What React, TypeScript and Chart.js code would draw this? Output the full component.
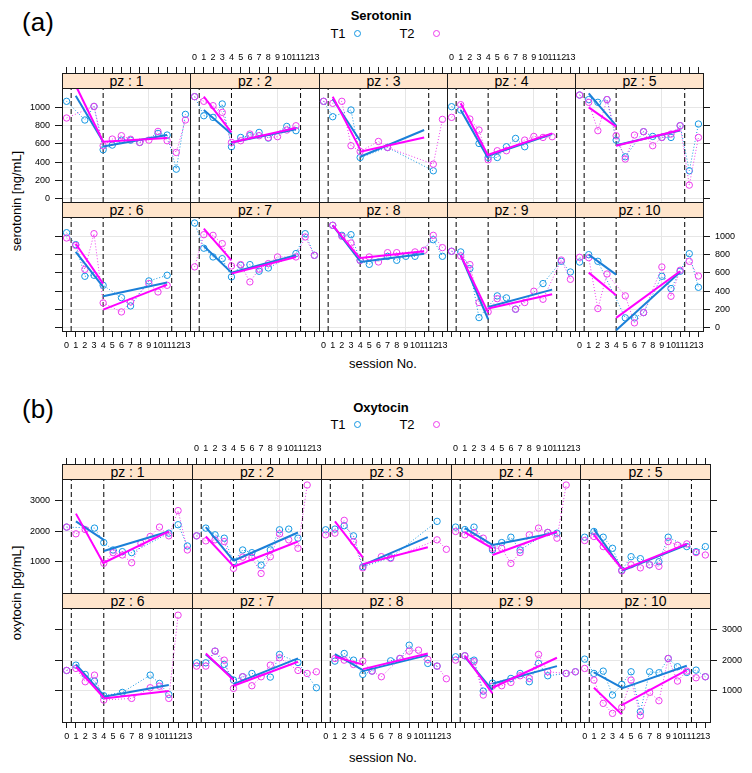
import React, { useEffect, useRef } from "react";
import { Chart, registerables } from "chart.js";
Chart.register(...registerables);

const _ = null;
const sessions = [0, 1, 2, 3, 4, 5, 6, 7, 8, 9, 10, 11, 12, 13];
const xTickValues = [0, 1, 2, 3, 4, 5, 6, 7, 8, 9, 10, 11, 12, 13];
const serYTicks = [0, 200, 400, 600, 800, 1000];
const oxyYTicks = [1000, 2000, 3000];
const phaseBreaks = [0.5, 4, 11.5];
const gridSessions = [9];
const fitX = [1, 4, 4, 11];
const panelNames = ["pz : 1", "pz : 2", "pz : 3", "pz : 4", "pz : 5", "pz : 6", "pz : 7", "pz : 8", "pz : 9", "pz : 10"];

// Serotonin [ng/mL], sessions 0..13
const serT1 = [
  [1066, _, 861, 1010, 535, 586, 640, 640, 615, _, 714, 696, 322, 923],
  [1117, 908, 890, 1037, 568, 670, 690, 725, 663, _, 791, 744, _, _],
  [1066, 897, _, 971, 450, _, _, 560, _, _, _, _, 304, _],
  [1007, 971, _, 604, 450, 450, 568, 659, 568, _, _, _, _, _],
  [1135, 1085, 1055, 1085, 641, 458, _, 733, 681, 670, 670, 799, 304, 817],
  [1040, 909, 562, 573, 463, _, 328, 237, _, 511, _, 573, _, _],
  [1146, 870, 774, 755, 555, 683, 690, 617, 653, _, _, 811, 1029, 792],
  [_, 1121, 1011, 1018, 737, 693, _, 780, 737, 781, 781, _, 963, 781],
  [836, 829, 646, 109, _, 347, 325, 201, _, _, 482, _, 726, 609],
  [718, 799, 726, _, _, 106, 106, 164, _, 562, 427, 617, 810, 441],
];
const serT2 = [
  [883, _, _, 1010, 579, 652, 689, 650, 615, 640, 736, 634, 505, 861],
  [1117, 1066, 1018, 945, 615, 634, 707, 689, 668, 678, 751, 798, _, _],
  [1066, 1044, 1066, 579, 516, _, 626, 560, _, _, _, _, 377, 868],
  [890, 1029, 872, 751, 425, 524, 524, _, 641, 681, 670, 678, _, _],
  [1135, 1055, 744, 1085, 689, 433, 696, 733, 579, 670, 707, 799, 147, 670],
  [982, 900, 638, 1029, 270, _, 171, 281, _, 482, 390, 463, _, _],
  [665, 1018, 1011, 920, 675, 690, 500, 640, 701, 774, _, 774, 993, 792],
  [_, 1121, 1000, 927, 737, 774, 719, 821, 821, _, 829, 847, 1011, 876],
  [836, 785, 690, 274, 172, 317, _, 201, 274, 398, 310, _, 740, 529],
  [770, 766, 208, 587, _, 347, 51, 164, _, 664, 343, 628, 726, 565],
];
// fitted segments: value at session 1, 4 (pre) and 4, 11 (post)
const serFitT1 = [
  [1128, 623, 571, 696], [971, 707, 615, 760], [1091, 634, 458, 751], [971, 443, 469, 707], [1154, 799, 585, 745],
  [829, 445, 343, 493], [894, 602, 602, 792], [1121, 727, 718, 810], [792, 91, 226, 416], [799, 580, -30, 609],
];
const serFitT2 = [
  [1240, 623, 623, 663], [1117, 725, 615, 773], [1117, 542, 513, 670], [1044, 469, 480, 714], [1000, 788, 579, 751],
  [919, 482, 197, 471], [1084, 737, 591, 774], [1121, 756, 763, 836], [792, 164, 208, 365], [602, 354, 106, 617],
];

// Oxytocin [pg/mL], sessions 0..13
const oxyT1 = [
  [2131, _, _, 2098, 1626, 1384, 1329, 1296, _, _, _, 1933, 2208, 1516],
  [1845, 2098, 1878, 1769, 1000, 1384, 1296, 890, 1384, 2043, 2065, 1769, _, _],
  [2043, 2065, 2175, 1845, 835, _, _, 1130, _, _, _, _, 2318, _],
  [2131, 2050, 2131, _, 1384, 1626, 1801, 1384, _, _, 1955, 1933, _, _],
  [1801, 1988, 1801, 1439, 720, 1165, 1100, 900, 1000, 1801, _, 1494, 1329, 1494],
  [1662, 1836, 1532, 1315, 838, _, 946, _, _, 1510, 1239, 880, _, _],
  [1912, 1912, 2292, 1858, 1350, 1456, 1564, _, 1445, 2184, _, 1923, _, 1098],
  [_, 1967, 2216, 1999, 1532, 1641, _, 1977, 2053, 2487, _, 1891, 1804, _],
  [2108, 2141, 1999, 988, 1250, _, 1402, 1564, 1293, 1891, 1489, _, 1564, 1619],
  [2032, 1565, 1641, 859, 1207, 1619, 316, 1619, 1586, 2053, 1782, 1597, 1673, 1456],
];
const oxyT2 = [
  [2131, 1911, 2050, _, 950, 1296, 1220, 967, 1604, 1824, 2131, 1845, 2669, 1384],
  [1845, 1681, 1714, 1659, 783, 1150, 1140, 618, 1165, 1911, 1714, 1439, 3503, _],
  [1878, 1933, 2351, 1659, 800, _, 1165, 1110, _, _, _, _, 1714, 1406],
  [1988, 1878, 1950, 1769, 1439, 1439, 945, 1300, 1878, 2098, 1955, 1769, 3503, _],
  [1692, 1823, 1494, _, 700, 900, 800, 900, 850, 1659, 1538, 1582, 1300, 1220],
  [1662, 1728, 1293, 1510, 696, _, _, 750, _, 1098, 1150, 750, 3465, _],
  [1804, 1804, 2292, 1999, 1076, 1456, 1163, 1456, 1836, 2076, _, 1662, 1564, 1619],
  [_, 2053, 1999, 1858, 1967, 1641, 1456, _, 2053, 2293, 2325, 2022, 1804, 1391],
  [1999, 2141, 1950, 859, 1150, 1163, 1272, 1489, 1402, 2184, 1619, _, 1564, 1619],
  [1728, 1348, 587, 261, 457, 1348, 185, 946, 674, 2053, 1315, 1641, 1423, 1456],
];
const oxyFitT1 = [
  [2318, 1714, 1351, 1988], [2131, 1033, 1033, 1955], [_, _, 890, 1801], [2098, 1549, 1549, 1955], [2065, 780, 700, 1550],
  [1858, 838, 805, 1185], [2184, 1402, 1217, 2054], [2199, 1673, 1641, 2162], [2108, 1022, 1228, 1804], [1597, 1098, 1076, 1815],
];
const oxyFitT2 = [
  [2570, 923, 967, 1988], [1823, 857, 835, 1659], [2318, 1143, 923, 1472], [1955, 1439, 1220, 1988], [1878, 780, 725, 1582],
  [1782, 772, 750, 990], [2216, 1348, 1163, 1945], [2113, 1853, 1706, 2217], [2141, 914, 1098, 2076], [1098, 229, 533, 1673],
];

const FONT = "'Liberation Sans', Arial, Helvetica, sans-serif";
const AXIS = "#1a1a1a";
const GRID = "#e6e6e6";
const T1_PT = "#1497e3";
const T1_LN = "#1a7fd8";
const T2_PT = "#ee3cee";
const T2_LN = "#ff00ff";
const STRIP_BG = "#ffe5cc";
const ML = 50, MR = 50, MT = 30, MB = 30;

type Vals = (number | null)[];
type PanelProps = {
  name: string;
  t1: Vals; t2: Vals; f1: Vals; f2: Vals;
  left: number; width: number; top: number; stripH: number; plotH: number;
  yMin: number; yMax: number; yTicks: number[];
  topTicks: boolean; topLabels: boolean; bottomTicks: boolean; bottomLabels: boolean;
  leftTicks: boolean; leftLabels: boolean; rightTicks: boolean; rightLabels: boolean;
};

function Panel(p: PanelProps) {
  const ref = useRef<HTMLCanvasElement>(null);
  const cw = p.width + ML + MR;
  const ch = p.stripH + p.plotH + MT + MB;
  useEffect(() => {
    const canvas = ref.current;
    if (!canvas) return;
    const yExt = p.yMax + (p.stripH * (p.yMax - p.yMin)) / p.plotH;
    const pts = (v: Vals) => sessions.map((s, i) => ({ x: s, y: v[i] })).filter((d) => d.y !== null);
    const seg = (f: Vals, a: number, b: number) =>
      f[a] === null || f[b] === null ? [] : [{ x: fitX[a], y: f[a] }, { x: fitX[b], y: f[b] }];
    const fitDs = (data: any[], c: string) => ({ data, borderColor: c, borderWidth: 2, pointRadius: 0, fill: false });
    const ptDs = (data: any[], c: string) => ({
      data, borderColor: c, borderWidth: 1, borderDash: [1, 2], pointRadius: 3.2, pointBorderWidth: 1,
      pointBorderColor: c, pointBackgroundColor: "rgba(0,0,0,0)", spanGaps: true, fill: false,
    });
    const datasets: any[] = [
      fitDs(seg(p.f2, 2, 3), T2_LN), fitDs(seg(p.f2, 0, 1), T2_LN),
      fitDs(seg(p.f1, 2, 3), T1_LN), fitDs(seg(p.f1, 0, 1), T1_LN),
      ptDs(pts(p.t2), T2_PT), ptDs(pts(p.t1), T1_PT),
      ...phaseBreaks.map((d) => ({
        data: [{ x: d, y: p.yMin }, { x: d, y: yExt }], borderColor: "#000", borderWidth: 1,
        borderDash: [5, 3], pointRadius: 0, fill: false,
      })),
    ];
    const tickFont = { family: FONT, size: 9 };
    const xBase = (pos: "top" | "bottom", ticksOn: boolean, labelsOn: boolean, gridOn: boolean) => ({
      type: "linear" as const, position: pos, min: -0.5, max: 13.5, offset: false,
      afterBuildTicks: (s: any) => { s.ticks = xTickValues.map((v) => ({ value: v })); },
      afterFit: (s: any) => { s.height = pos === "top" ? MT : MB; },
      grid: {
        drawOnChartArea: gridOn, drawTicks: ticksOn, tickLength: 6, tickColor: AXIS, lineWidth: 1,
        color: (ctx: any) => (gridOn && ctx.tick && gridSessions.includes(ctx.tick.value) ? GRID : "rgba(0,0,0,0)"),
      },
      border: { display: true, color: AXIS, width: 1 },
      ticks: { display: labelsOn, autoSkip: false, maxRotation: 0, minRotation: 0, padding: pos === "top" ? 4 : 3,
        color: "#000", font: tickFont, callback: (v: any) => String(v) },
    });
    const yBase = (pos: "left" | "right", ticksOn: boolean, labelsOn: boolean, gridOn: boolean) => ({
      type: "linear" as const, position: pos, min: p.yMin, max: yExt, bounds: "data" as const,
      afterBuildTicks: (s: any) => { s.ticks = p.yTicks.map((v) => ({ value: v })); },
      afterFit: (s: any) => { s.width = pos === "left" ? ML : MR; },
      grid: { drawOnChartArea: gridOn, drawTicks: ticksOn, tickLength: 7, tickColor: AXIS, color: GRID, lineWidth: 1 },
      border: { display: true, color: AXIS, width: 1 },
      ticks: { display: labelsOn, padding: 5, color: "#000", font: tickFont, callback: (v: any) => String(v) },
    });
    const chart = new Chart(canvas, {
      type: "line",
      data: { datasets },
      options: {
        animation: false, responsive: false, devicePixelRatio: 1,
        layout: { padding: 0, autoPadding: false },
        plugins: { legend: { display: false }, tooltip: { enabled: false }, title: { display: false } },
        scales: {
          x: xBase("bottom", p.bottomTicks, p.bottomLabels, true),
          xt: xBase("top", p.topTicks, p.topLabels, false),
          y: yBase("left", p.leftTicks, p.leftLabels, true),
          yr: yBase("right", p.rightTicks, p.rightLabels, false),
        },
      } as any,
    });
    return () => chart.destroy();
  }, []);
  return (
    <canvas
      ref={ref}
      width={cw}
      height={ch}
      style={{ position: "absolute", left: p.left - ML, top: p.top - MT, width: cw, height: ch }}
    />
  );
}

type FigSpec = {
  L0: number; W: number; top0: number; S: number; H: number; yMin: number; yMax: number; yTicks: number[];
  t1: Vals[]; t2: Vals[]; f1: Vals[]; f2: Vals[];
};

function Figure({ spec }: { spec: FigSpec }) {
  const panels: any[] = [];
  const strips: any[] = [];
  for (let i = 0; i < 10; i++) {
    const row = Math.floor(i / 5);
    const col = i % 5;
    const left = Math.round(spec.L0 + col * spec.W);
    const right = Math.round(spec.L0 + (col + 1) * spec.W);
    const top = spec.top0 + row * (spec.S + spec.H);
    panels.push(
      <Panel
        key={"p" + i}
        name={panelNames[i]}
        t1={spec.t1[i]} t2={spec.t2[i]} f1={spec.f1[i]} f2={spec.f2[i]}
        left={left} width={right - left} top={top} stripH={spec.S} plotH={spec.H}
        yMin={spec.yMin} yMax={spec.yMax} yTicks={spec.yTicks}
        topTicks={row === 0} topLabels={row === 0 && (col === 1 || col === 3)}
        bottomTicks={row === 1} bottomLabels={row === 1 && col % 2 === 0}
        leftTicks={col === 0} leftLabels={col === 0 && row === 0}
        rightTicks={col === 4} rightLabels={col === 4 && row === 1}
      />
    );
    strips.push(
      <div
        key={"s" + i}
        style={{
          position: "absolute", left, top, width: right - left + 1, height: spec.S + 1, boxSizing: "border-box",
          background: STRIP_BG, border: `1px solid ${AXIS}`, fontFamily: FONT, fontSize: 14, fontWeight: "normal",
          color: "#000", textAlign: "center", lineHeight: spec.S - 1 + "px", whiteSpace: "nowrap",
        }}
      >
        {panelNames[i]}
      </div>
    );
  }
  return (
    <>
      {panels}
      {strips}
    </>
  );
}

function Txt(props: { x: number; y: number; size?: number; bold?: boolean; rotate?: boolean; children: any }) {
  return (
    <div
      style={{
        position: "absolute", left: props.x, top: props.y, whiteSpace: "nowrap", fontFamily: FONT,
        fontSize: props.size || 13, fontWeight: props.bold ? "bold" : "normal", color: "#000", lineHeight: 1,
        transform: `translate(-50%, -50%)${props.rotate ? " rotate(-90deg)" : ""}`,
      }}
    >
      {props.children}
    </div>
  );
}

function KeyDot({ x, y, color }: { x: number; y: number; color: string }) {
  return (
    <div
      style={{
        position: "absolute", left: x - 3.5, top: y - 3.5, width: 7, height: 7, boxSizing: "border-box",
        borderRadius: "50%", border: `1.2px solid ${color}`,
      }}
    />
  );
}

function Key({ y }: { y: number }) {
  return (
    <>
      <Txt x={338} y={y}>T1</Txt>
      <KeyDot x={357} y={y} color={T1_PT} />
      <Txt x={407} y={y}>T2</Txt>
      <KeyDot x={436} y={y} color={T2_PT} />
    </>
  );
}

const specA: FigSpec = {
  L0: 62, W: 128.25, top0: 73, S: 15, H: 114, yMin: -38, yMax: 1212, yTicks: serYTicks,
  t1: serT1, t2: serT2, f1: serFitT1, f2: serFitT2,
};
const specB: FigSpec = {
  L0: 62, W: 129.6, top0: 464, S: 15, H: 114, yMin: -20, yMax: 3700, yTicks: oxyYTicks,
  t1: oxyT1, t2: oxyT2, f1: oxyFitT1, f2: oxyFitT2,
};

export default function App() {
  return (
    <div style={{ position: "absolute", left: 0, top: 0, width: 752, height: 773, overflow: "hidden", background: "#fff" }}>
      <Txt x={38} y={22} size={26}>(a)</Txt>
      <Txt x={381} y={15} bold>Serotonin</Txt>
      <Key y={33} />
      <Txt x={16} y={201} rotate>serotonin [ng/mL]</Txt>
      <Txt x={383} y={363}>session No.</Txt>
      <Figure spec={specA} />

      <Txt x={38} y={409} size={26}>(b)</Txt>
      <Txt x={381} y={407} bold>Oxytocin</Txt>
      <Key y={424} />
      <Txt x={16} y={593} rotate>oxytocin [pg/mL]</Txt>
      <Txt x={383} y={757}>session No.</Txt>
      <Figure spec={specB} />
    </div>
  );
}
